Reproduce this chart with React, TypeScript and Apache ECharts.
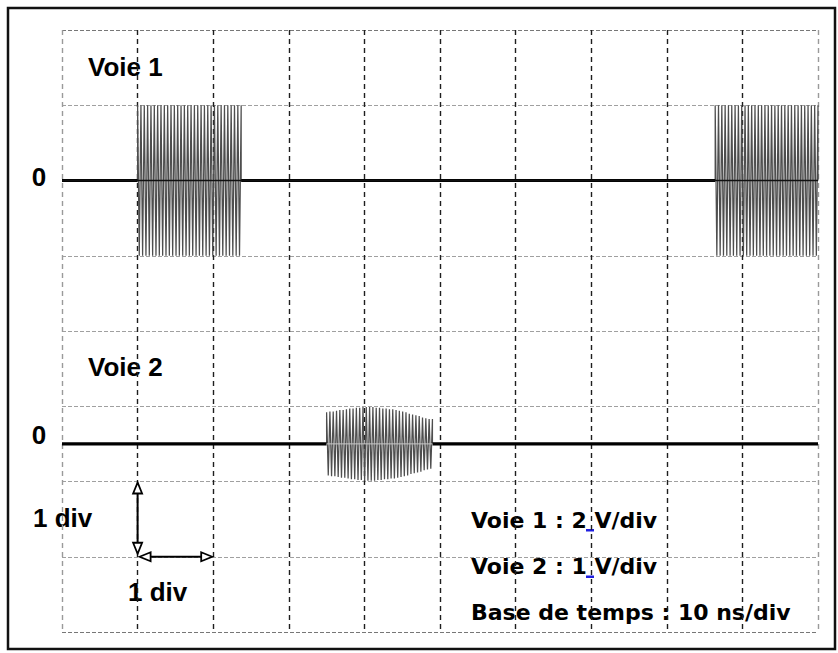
import React, { useEffect, useRef } from "react";
import * as echarts from "echarts";

// ---- Scope settings ----
const timeAxisMaxNs = 100;
const timePerDivNs = 10;
const verticalDivisions = 8;

const voie1VoltsPerDiv = 2;
const voie2VoltsPerDiv = 1;
const voie1ZeroDiv = 6;
const voie2ZeroDiv = 2.5;

// ---- Voie 1 : constant-amplitude bursts ----
const voie1Amplitude = 2; // V
const voie1BurstStarts = [10, 86.4]; // ns
const voie1BurstEnds = [23.7, 100]; // ns
const voie1BurstCycles = [31, 31];
const voie1BaselineSegments = [
  [0, 10],
  [23.7, 86.4],
];

// ---- Voie 2 : one burst, amplitude of each cycle ----
const voie2BurstStart = 35; // ns
const voie2BurstEnd = 49; // ns
const voie2CycleAmplitudes = [
  0.42, 0.43, 0.43, 0.44, 0.45, 0.45, 0.46, 0.47, 0.47, 0.48, 0.48, 0.49,
  0.49, 0.49, 0.49, 0.48, 0.48, 0.47, 0.47, 0.46, 0.46, 0.45, 0.44, 0.43,
  0.42, 0.4, 0.39, 0.38, 0.37, 0.35, 0.34, 0.33,
]; // V
const voie2BaselineSegments = [
  [0, 35],
  [49, 100],
];

// ---- Texts ----
const channelLabels = ["Voie 1", "Voie 2"];
const zeroLabel = "0";
const divLabel = "1 div";
const settingsLines = [
  "Voie 1 : 2 V/div",
  "Voie 2 : 1 V/div",
  "Base de temps : 10 ns/div",
];

const W = 838;
const H = 653;

function buildVoie1Burst(i: number): number[][] {
  const start = voie1BurstStarts[i];
  const end = voie1BurstEnds[i];
  const n = voie1BurstCycles[i];
  const step = (end - start) / n;
  const hi = voie1ZeroDiv + voie1Amplitude / voie1VoltsPerDiv;
  const lo = voie1ZeroDiv - voie1Amplitude / voie1VoltsPerDiv;
  const pts: number[][] = [[start, voie1ZeroDiv]];
  for (let k = 0; k < n; k++) {
    const t = start + k * step;
    pts.push([t, hi]);
    pts.push([t + step / 2, lo]);
  }
  pts.push([end, hi]);
  pts.push([end, voie1ZeroDiv]);
  return pts;
}

function buildVoie2Burst(): number[][] {
  const n = voie2CycleAmplitudes.length;
  const step = (voie2BurstEnd - voie2BurstStart) / n;
  const pts: number[][] = [[voie2BurstStart, voie2ZeroDiv]];
  voie2CycleAmplitudes.forEach((a, k) => {
    const t = voie2BurstStart + k * step;
    pts.push([t, voie2ZeroDiv + a / voie2VoltsPerDiv]);
    pts.push([t + step / 2, voie2ZeroDiv - a / voie2VoltsPerDiv]);
  });
  const last = voie2CycleAmplitudes[n - 1];
  pts.push([voie2BurstEnd, voie2ZeroDiv + last / voie2VoltsPerDiv]);
  pts.push([voie2BurstEnd, voie2ZeroDiv]);
  return pts;
}

const LABEL_FONT = 'bold 26px "Liberation Sans", Arial, sans-serif';
const SETTINGS_FONT = 'bold 22px "DejaVu Sans", sans-serif';

export default function App() {
  const ref = useRef<HTMLDivElement>(null);

  useEffect(() => {
    if (!ref.current) return;
    const chart = echarts.init(ref.current, null, { renderer: "svg" });

    const xLines = Math.round(timeAxisMaxNs / timePerDivNs) + 1;
    const xColors = Array.from({ length: xLines }, (_, i) =>
      i === 0 || i === xLines - 1 ? "#9a9a9a" : "#1e1e1e"
    );
    const yLines = verticalDivisions + 1;
    const yColors = Array.from({ length: yLines }, (_, i) =>
      i === 0 || i === yLines - 1 ? "#777" : "#a0a0a0"
    );

    const thick = { color: "#000", width: 3.2 };
    const burstStyle = { color: "#4e4e4e", width: 1.25 };
    const series: any[] = [];
    voie1BaselineSegments.forEach((seg) =>
      series.push({
        type: "line",
        data: [
          [seg[0], voie1ZeroDiv],
          [seg[1], voie1ZeroDiv],
        ],
        symbol: "none",
        lineStyle: thick,
        z: 3,
      })
    );
    voie2BaselineSegments.forEach((seg) =>
      series.push({
        type: "line",
        data: [
          [seg[0], voie2ZeroDiv],
          [seg[1], voie2ZeroDiv],
        ],
        symbol: "none",
        lineStyle: thick,
        z: 3,
      })
    );
    voie1BurstStarts.forEach((_, i) =>
      series.push({
        type: "line",
        data: buildVoie1Burst(i),
        symbol: "none",
        lineStyle: burstStyle,
        z: 2,
      })
    );
    series.push({
      type: "line",
      data: buildVoie2Burst(),
      symbol: "none",
      lineStyle: burstStyle,
      z: 2,
    });
    // thin zero line drawn over voie 1 bursts
    series.push({
      type: "line",
      data: [
        [0, voie1ZeroDiv],
        [timeAxisMaxNs, voie1ZeroDiv],
      ],
      symbol: "none",
      lineStyle: { color: "#111", width: 1.3 },
      z: 4,
    });
    series.push({
      type: "line",
      data: [
        [voie2BurstStart, voie2ZeroDiv],
        [voie2BurstEnd, voie2ZeroDiv],
      ],
      symbol: "none",
      lineStyle: { color: "#c8c8c8", width: 1 },
      z: 4,
    });

    const texts: any[] = [
      { type: "text", x: 88, y: 67, style: { text: channelLabels[0], font: LABEL_FONT, fill: "#000", textAlign: "left", textVerticalAlign: "middle" } },
      { type: "text", x: 88, y: 367, style: { text: channelLabels[1], font: LABEL_FONT, fill: "#000", textAlign: "left", textVerticalAlign: "middle" } },
      { type: "text", x: 39, y: 177, style: { text: zeroLabel, font: LABEL_FONT, fill: "#000", textAlign: "center", textVerticalAlign: "middle" } },
      { type: "text", x: 39, y: 435, style: { text: zeroLabel, font: LABEL_FONT, fill: "#000", textAlign: "center", textVerticalAlign: "middle" } },
      { type: "text", x: 33, y: 518, style: { text: divLabel, font: LABEL_FONT, fill: "#000", textAlign: "left", textVerticalAlign: "middle" } },
      { type: "text", x: 128, y: 592, style: { text: divLabel, font: LABEL_FONT, fill: "#000", textAlign: "left", textVerticalAlign: "middle" } },
      { type: "text", x: 471, y: 520, style: { text: settingsLines[0], font: SETTINGS_FONT, fill: "#000", textAlign: "left", textVerticalAlign: "middle" } },
      { type: "text", x: 471, y: 566, style: { text: settingsLines[1], font: SETTINGS_FONT, fill: "#000", textAlign: "left", textVerticalAlign: "middle" } },
      { type: "text", x: 471, y: 612, style: { text: settingsLines[2], font: SETTINGS_FONT, fill: "#000", textAlign: "left", textVerticalAlign: "middle" } },
      { type: "rect", shape: { x: 586, y: 529, width: 8, height: 2.5 }, style: { fill: "#1f1fe0" } },
      { type: "rect", shape: { x: 586, y: 575.5, width: 8, height: 2.5 }, style: { fill: "#1f1fe0" } },
      { type: "rect", shape: { x: 8, y: 8, width: 827, height: 641 }, style: { fill: "none", stroke: "#111", lineWidth: 2.5 }, z: 10 },
    ];

    const option: any = {
      animation: false,
      backgroundColor: "#fff",
      grid: { left: 62, right: 20, top: 30, bottom: 21, containLabel: false },
      xAxis: {
        type: "value",
        min: 0,
        max: timeAxisMaxNs,
        interval: timePerDivNs,
        axisLine: { show: false },
        axisTick: { show: false },
        axisLabel: { show: false },
        splitLine: {
          show: true,
          showMinLine: true,
          showMaxLine: true,
          lineStyle: { color: xColors, type: [5, 4], width: 1.4 },
        },
      },
      yAxis: {
        type: "value",
        min: 0,
        max: verticalDivisions,
        interval: 1,
        axisLine: { show: false },
        axisTick: { show: false },
        axisLabel: { show: false },
        splitLine: {
          show: true,
          showMinLine: true,
          showMaxLine: true,
          lineStyle: { color: yColors, type: [4, 2], width: 1 },
        },
      },
      series,
      graphic: texts,
    };
    chart.setOption(option);

    // 1 div arrows placed through the axes' scales
    const pTop = chart.convertToPixel({ gridIndex: 0 }, [timePerDivNs, 2]) as number[];
    const pCorner = chart.convertToPixel({ gridIndex: 0 }, [timePerDivNs, 1]) as number[];
    const pRight = chart.convertToPixel({ gridIndex: 0 }, [2 * timePerDivNs, 1]) as number[];
    const hl = 11;
    const hw = 4.5;
    const arrowStyle = { stroke: "#000", lineWidth: 2, fill: "none" };
    const headStyle = { stroke: "#000", lineWidth: 1.8, fill: "#fff" };
    const x0 = pTop[0];
    const topTip = pTop[1] + 1;
    const botTip = pCorner[1] - 3;
    const leftTip = pCorner[0] + 2;
    const rightTip = pRight[0] - 1;
    const yH = pCorner[1];
    const arrows: any[] = [
      { type: "line", shape: { x1: x0, y1: topTip + hl, x2: x0, y2: botTip - hl }, style: arrowStyle, z: 20 },
      { type: "polygon", shape: { points: [[x0, topTip], [x0 - hw, topTip + hl], [x0 + hw, topTip + hl]] }, style: headStyle, z: 20 },
      { type: "polygon", shape: { points: [[x0, botTip], [x0 - hw, botTip - hl], [x0 + hw, botTip - hl]] }, style: headStyle, z: 20 },
      { type: "line", shape: { x1: leftTip + hl, y1: yH, x2: rightTip - hl, y2: yH }, style: arrowStyle, z: 20 },
      { type: "polygon", shape: { points: [[leftTip, yH], [leftTip + hl, yH - hw], [leftTip + hl, yH + hw]] }, style: headStyle, z: 20 },
      { type: "polygon", shape: { points: [[rightTip, yH], [rightTip - hl, yH - hw], [rightTip - hl, yH + hw]] }, style: headStyle, z: 20 },
    ];
    chart.setOption({ graphic: texts.concat(arrows) });

    return () => chart.dispose();
  }, []);

  return (
    <div
      ref={ref}
      style={{ position: "fixed", left: 0, top: 0, width: W, height: H, background: "#fff" }}
    />
  );
}
